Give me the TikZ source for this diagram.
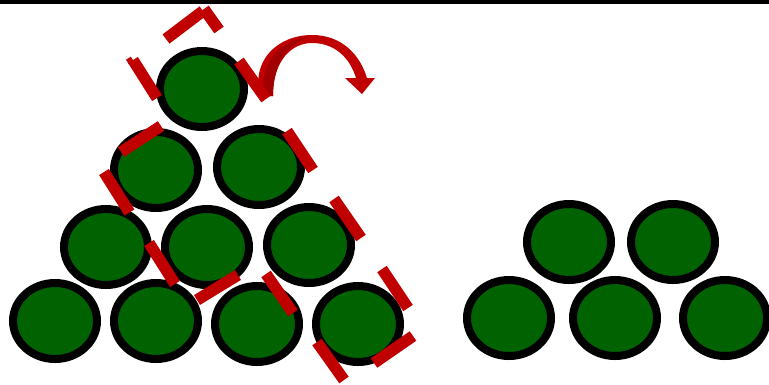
\documentclass[tikz,border=0pt]{standalone}
\begin{document}
\begin{tikzpicture}[x=1pt,y=-1pt,
  ball/.style={draw=black,line width=8pt,fill=ballgreen},
  bar/.style={draw=barred,line width=11.5pt,line cap=butt}]
\definecolor{ballgreen}{RGB}{0,98,0}
\definecolor{barred}{RGB}{192,0,0}
\definecolor{darkred}{RGB}{160,0,0}
\useasboundingbox (0,0) rectangle (769,384);
\fill[white] (0,0) rectangle (769,384);
\fill[black] (0,0) rectangle (769,4);
% left pyramid
\foreach \n/\x/\y in {a1/202/89, b1/156/170, b2/259/167,
  c1/106/247, c2/207/247, c3/309/245,
  d1/55/321, d2/156/321, d3/257/324, d4/358/324}
  {\draw[ball] (\x,\y) ellipse [x radius=42, y radius=38];
   \coordinate (\n) at (\x,\y);}
% right group
\foreach \n/\x/\y in {r1/569/242, r2/673/242, s1/509/318, s2/615/318, s3/725/318}
  {\draw[ball] (\x,\y) ellipse [x radius=42, y radius=38];
   \coordinate (\n) at (\x,\y);}
% curved arrow
\fill[barred] (260,96) .. controls (251,60) and (278,35) .. (312,35)
  .. controls (342,35) and (360,55) .. (367,78) -- (375,78) -- (362,94) -- (345,78) -- (356,78)
  .. controls (350,58) and (335,43) .. (312,43)
  .. controls (292,43) and (273,60) .. (273,96) -- cycle;
\fill[darkred] (264,96) .. controls (258,62) and (282,40) .. (308,37)
  .. controls (290,44) and (273,60) .. (273,96) -- cycle;
% red bars
\foreach \ax/\ay/\bx/\by in {
  166/39/203/11, 204/9/219/30,
  133/60/157/98, 239/61/266/99,
  121/152/161/126, 104/172/129.5/212.5, 287/131/313/170,
  149/243/175/284, 197/300/238/275, 266/274/293/313,
  334/199/361/238, 382/269/408/308,
  317/342/344/380, 374/363/413/336}
  {\draw[bar] (\ax,\ay) -- (\bx,\by);}
\draw[barred,line width=5.75pt] (128.4,58.2) -- (131.6,63.2);
\end{tikzpicture}
\end{document}
